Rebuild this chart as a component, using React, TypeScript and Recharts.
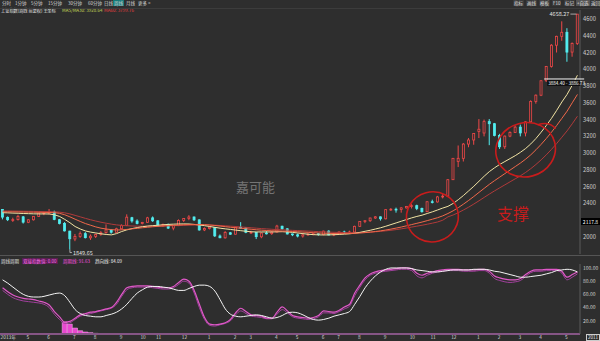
import React from "react";
import { ComposedChart, Bar, Line, XAxis, YAxis, ReferenceLine, ReferenceDot } from "recharts";

// 上证指数 周线 2013.03 - 2015.05 : [open, high, low, close]
const candles: [number, number, number, number][] = [
  [2328, 2332, 2210, 2237], [2234, 2245, 2190, 2206], [2200, 2230, 2180, 2207], [2207, 2265, 2196, 2244], [2240, 2250, 2160, 2177],
  [2175, 2212, 2165, 2205], [2205, 2250, 2196, 2246], [2245, 2290, 2238, 2283], [2282, 2300, 2260, 2288], [2285, 2334, 2270, 2300],
  [2298, 2314, 2200, 2210], [2206, 2215, 2150, 2162], [2160, 2178, 2065, 2073], [2070, 2074, 1849.65, 1979], [1976, 2036, 1950, 2007],
  [2005, 2066, 1990, 2040], [2040, 2059, 1982, 1992], [1990, 2030, 1965, 2010], [2006, 2040, 1988, 2029], [2030, 2070, 2015, 2052],
  [2052, 2150, 2040, 2085], [2085, 2090, 2040, 2057], [2056, 2110, 2050, 2098], [2098, 2150, 2090, 2139], [2139, 2270, 2130, 2236],
  [2230, 2240, 2170, 2191], [2190, 2210, 2150, 2160], [2160, 2180, 2150, 2174], [2175, 2240, 2170, 2228], [2228, 2245, 2180, 2193],
  [2193, 2200, 2125, 2133], [2133, 2160, 2120, 2149], [2150, 2160, 2095, 2106], [2106, 2145, 2080, 2135], [2135, 2210, 2130, 2197],
  [2197, 2225, 2180, 2220], [2220, 2260, 2200, 2238], [2238, 2245, 2190, 2204], [2204, 2210, 2075, 2084], [2084, 2115, 2070, 2101],
  [2100, 2125, 2090, 2116], [2112, 2115, 2000, 2013], [2012, 2030, 1985, 1991], [1990, 2070, 1980, 2054], [2050, 2060, 2025, 2033],
  [2033, 2125, 2030, 2115], [2115, 2177, 2100, 2113], [2110, 2112, 2045, 2056], [2050, 2075, 2035, 2057], [2055, 2060, 1975, 2004],
  [2002, 2055, 1985, 2047], [2047, 2070, 2030, 2041], [2040, 2070, 2025, 2058], [2058, 2145, 2055, 2130], [2128, 2135, 2085, 2097],
  [2097, 2105, 2030, 2036], [2036, 2040, 2010, 2026], [2026, 2040, 1995, 2011], [2011, 2035, 1992, 2026], [2026, 2045, 2015, 2034],
  [2034, 2050, 2020, 2039], [2039, 2045, 2015, 2029], [2029, 2075, 2020, 2070], [2070, 2080, 2020, 2024], [2024, 2045, 2010, 2036],
  [2036, 2065, 2030, 2060], [2060, 2075, 2040, 2047], [2047, 2075, 2035, 2059], [2059, 2135, 2055, 2127], [2127, 2190, 2120, 2185],
  [2185, 2200, 2165, 2194], [2194, 2230, 2180, 2226], [2226, 2250, 2215, 2240], [2240, 2245, 2195, 2217], [2217, 2330, 2210, 2326],
  [2326, 2345, 2310, 2331], [2331, 2350, 2290, 2329], [2329, 2355, 2290, 2347], [2347, 2370, 2340, 2364], [2364, 2391, 2340, 2374],
  [2374, 2385, 2320, 2341], [2341, 2350, 2290, 2302], [2302, 2425, 2295, 2420], [2420, 2445, 2400, 2418], [2418, 2490, 2410, 2478],
  [2478, 2510, 2460, 2487], [2487, 2690, 2480, 2683], [2683, 2940, 2680, 2938], [2900, 3091, 2834, 2938], [2938, 3120, 2900, 3108],
  [3108, 3180, 3070, 3157], [3157, 3240, 3100, 3234], [3258, 3406, 3180, 3285], [3240, 3400, 3200, 3376], [3376, 3406, 3095, 3351],
  [3351, 3360, 3200, 3210], [3210, 3230, 3050, 3076], [3076, 3210, 3050, 3203], [3203, 3260, 3190, 3247], [3247, 3330, 3240, 3310],
  [3310, 3340, 3200, 3241], [3241, 3380, 3200, 3373], [3373, 3630, 3370, 3617], [3617, 3700, 3590, 3691], [3691, 3870, 3680, 3863],
  [3863, 4040, 3850, 4034], [4034, 4300, 4020, 4287], [4287, 4400, 4200, 4393], [4393, 4572, 4340, 4441], [4441, 4490, 4090, 4205],
  [4205, 4320, 4150, 4308], [4308, 4658.27, 4290, 4657.6],
];

// moving averages
const maFast = [
  2290, 2288, 2285, 2283, 2280, 2278, 2276, 2275, 2275, 2274,
  2265, 2245, 2210, 2170, 2125, 2095, 2072, 2058, 2048, 2038,
  2030, 2025, 2040, 2065, 2085, 2100, 2112, 2122, 2130, 2135,
  2140, 2145, 2150, 2153, 2155, 2156, 2155, 2150, 2143, 2135,
  2125, 2115, 2105, 2097, 2090, 2082, 2075, 2068, 2062, 2060,
  2060, 2060, 2060, 2062, 2063, 2060, 2055, 2048, 2040, 2033,
  2028, 2025, 2024, 2025, 2027, 2030, 2034, 2038, 2045, 2055,
  2068, 2080, 2095, 2110, 2128, 2148, 2168, 2188, 2208, 2228,
  2245, 2260, 2280, 2300, 2322, 2345, 2365, 2400, 2445, 2495,
  2550, 2605, 2665, 2725, 2780, 2825, 2865, 2900, 2935, 2970,
  3010, 3055, 3110, 3175, 3250, 3330, 3415, 3510, 3610, 3700,
  3810, 3928.64,
];
const maMid = [
  2300, 2300, 2299, 2298, 2297, 2296, 2295, 2294, 2293, 2292,
  2290, 2282, 2265, 2240, 2212, 2185, 2160, 2140, 2120, 2105,
  2095, 2088, 2083, 2085, 2090, 2097, 2103, 2110, 2116, 2122,
  2127, 2132, 2136, 2140, 2143, 2146, 2148, 2149, 2149, 2147,
  2143, 2137, 2130, 2123, 2116, 2110, 2104, 2098, 2092, 2086,
  2081, 2077, 2074, 2072, 2070, 2068, 2065, 2062, 2058, 2055,
  2051, 2048, 2045, 2043, 2041, 2040, 2040, 2041, 2043, 2047,
  2052, 2058, 2065, 2073, 2083, 2094, 2106, 2119, 2133, 2148,
  2163, 2178, 2195, 2212, 2230, 2252, 2280, 2312, 2350, 2392,
  2436, 2483, 2532, 2580, 2628, 2672, 2714, 2756, 2798, 2840,
  2882, 2928, 2980, 3040, 3105, 3175, 3250, 3330, 3415, 3500,
  3600, 3700,
];
const maSlow = [
  2310, 2310, 2309, 2308, 2307, 2306, 2305, 2304, 2303, 2302,
  2300, 2296, 2288, 2275, 2258, 2240, 2222, 2205, 2190, 2176,
  2164, 2153, 2144, 2138, 2134, 2131, 2129, 2128, 2128, 2129,
  2130, 2131, 2133, 2135, 2137, 2139, 2141, 2142, 2143, 2143,
  2142, 2140, 2137, 2133, 2129, 2125, 2120, 2115, 2110, 2105,
  2100, 2096, 2092, 2088, 2085, 2082, 2079, 2076, 2073, 2070,
  2067, 2064, 2061, 2058, 2056, 2054, 2053, 2052, 2052, 2053,
  2055, 2058, 2062, 2067, 2073, 2080, 2088, 2097, 2107, 2118,
  2129, 2140, 2152, 2165, 2179, 2200, 2240, 2262, 2290, 2322,
  2356, 2393, 2432, 2472, 2512, 2550, 2586, 2622, 2658, 2694,
  2730, 2770, 2815, 2865, 2920, 2980, 3045, 3115, 3190, 3265,
  3350, 3440,
];

// 周线周期 indicator
const cycleLine = [
  70, 64, 59, 56, 54, 53, 52, 50, 48, 44,
  34, 26, 18, 19, 24, 29, 31, 33, 34, 36,
  38, 40, 48, 60, 70, 72, 73, 73, 73, 72,
  71, 70, 70, 72, 78, 83, 80, 66, 45, 25,
  15, 14, 15, 17, 22, 32, 39, 34, 29, 28,
  27, 24, 24, 33, 41, 35, 28, 26, 25, 24,
  25, 28, 35, 34, 33, 36, 41, 45, 62, 74,
  85, 91, 94, 96, 97, 98, 99, 100, 100, 99,
  92, 89, 92, 94, 96, 97, 98, 98, 98, 97,
  97, 97, 98, 98, 95, 88, 85, 83, 82, 82,
  84, 90, 95, 97, 97, 98, 98, 98, 95, 86,
  90, 94,
];
const cyclePurple = [
  66, 60, 55, 52, 50, 49, 48, 47, 45, 40,
  30, 22, 16, 17, 22, 27, 29, 31, 33, 35,
  37, 39, 45, 57, 67, 70, 71, 71, 71, 70,
  69, 68, 68, 70, 75, 80, 77, 62, 40, 22,
  13, 12, 14, 16, 20, 29, 35, 31, 27, 26,
  25, 23, 23, 30, 37, 32, 26, 24, 23, 22,
  23, 26, 32, 32, 31, 34, 38, 42, 58, 71,
  82, 89, 92, 94, 95, 96, 97, 98, 98, 96,
  88, 85, 89, 92, 94, 95, 96, 96, 96, 95,
  95, 95, 96, 96, 92, 84, 81, 79, 78, 79,
  81, 87, 93, 95, 95, 96, 96, 96, 92, 82,
  86, 91,
];
const trendLine = [
  82, 77, 71, 65, 60, 57, 56, 56, 57, 59,
  61, 62, 58, 48, 37, 31, 28, 27, 26, 26,
  28, 30, 33, 38, 45, 54, 62, 67, 71, 72,
  72, 71, 70, 68, 66, 66, 69, 72, 74, 74,
  72, 65, 52, 38, 30, 27, 26, 27, 28, 29,
  28, 26, 24, 25, 28, 32, 33, 32, 29, 25,
  22, 21, 22, 24, 27, 29, 31, 34, 45, 57,
  70, 80, 88, 94, 98, 100, 100, 100, 100, 99,
  97, 96, 95, 94, 94, 95, 96, 97, 97, 97,
  97, 98, 98, 98, 97, 95, 94, 92, 90, 88,
  86, 86, 87, 88, 89, 91, 93, 96, 97, 98,
  97, 94,
];
// 双接指数值 bars, starting at week 12
const crossStart = 12;
const crossBars = [18, 15, 9, 5, 3, 2, 1];

// 2200 sits under the price box on the axis
const priceTicks = [2000, 2400, 2600, 2800, 3000, 3200, 3400, 3600, 3800, 4000, 4200, 4400, 4600];
const oscTicks = [20, 40, 60, 80, 100];
const monthTicks = [
  { i: 0, label: "2013年" }, { i: 5, label: "5" }, { i: 9, label: "6" }, { i: 14, label: "7" },
  { i: 18, label: "8" }, { i: 23, label: "9" }, { i: 27, label: "10" }, { i: 30, label: "11" },
  { i: 35, label: "12" }, { i: 40, label: "1" }, { i: 45, label: "2" }, { i: 48, label: "3" },
  { i: 53, label: "4" }, { i: 57, label: "5" }, { i: 62, label: "6" }, { i: 65, label: "7" },
  { i: 69, label: "8" }, { i: 74, label: "9" }, { i: 79, label: "10" }, { i: 83, label: "11" },
  { i: 87, label: "12" }, { i: 92, label: "1" }, { i: 96, label: "2" }, { i: 100, label: "3" },
  { i: 104, label: "4" }, { i: 109, label: "5" },
];

const BG = "#2e2e2e";
const FONT = "'Noto Sans CJK SC', 'DejaVu Sans', sans-serif";

const rows = candles.map(([open, high, low, close], i) => ({
  i,
  open,
  high,
  low,
  close,
  range: [low, high],
  maFast: maFast[i],
  maMid: maMid[i],
  maSlow: maSlow[i],
  cycle: cycleLine[i],
  cycle2: cyclePurple[i],
  trend: trendLine[i],
  cross: i >= crossStart && i < crossStart + crossBars.length ? crossBars[i - crossStart] : null,
}));

const topHigh = Math.max(...candles.map((c) => c[1]));
const lowIdx = candles.findIndex((c) => c[2] === Math.min(...candles.map((d) => d[2])));

function Candle(props: any) {
  const { x, y, width, height, payload } = props;
  if (x == null || !payload) return null;
  const top = Math.min(y, y + height);
  const h = Math.abs(height);
  const { open, close, high, low } = payload;
  const span = high - low || 1;
  const py = (v: number) => top + ((high - v) / span) * h;
  const up = close >= open;
  const color = up ? "#f04848" : "#52eef0";
  const cx = x + width / 2;
  const b1 = py(Math.max(open, close));
  const b2 = py(Math.min(open, close));
  return (
    <g>
      <line x1={cx} x2={cx} y1={top} y2={top + h} stroke={color} strokeWidth={1} />
      <rect x={x} y={b1} width={width} height={Math.max(b2 - b1, 0.8)} fill={up ? BG : color} stroke={color} strokeWidth={0.8} />
    </g>
  );
}

const HighMark = (props: any) => (
  <g>
    <line x1={props.cx - 7} x2={props.cx - 1} y1={props.cy} y2={props.cy} stroke="#ddd" strokeWidth={0.7} />
    <text x={props.cx - 8} y={props.cy + 2} fontSize={5.5} fill="#e0e0e0" textAnchor="end">{topHigh.toFixed(2)}</text>
  </g>
);

const LowMark = (props: any) => (
  <g>
    <path d={`M${props.cx},${props.cy} V${props.cy + 3} H${props.cx + 2}`} stroke="#ddd" strokeWidth={0.7} fill="none" />
    <text x={props.cx + 3} y={props.cy + 5} fontSize={5.5} fill="#e0e0e0">{candles[lowIdx][2].toFixed(2)}</text>
  </g>
);

const RangeMark = (props: any) => (
  <g>
    <line x1={props.cx + 3} x2={props.cx + 43} y1={props.cy} y2={props.cy} stroke="#f4f4f4" strokeWidth={1} />
    <rect x={props.cx + 6} y={props.cy + 1} width={33} height={6} fill="#111" />
    <text x={props.cx + 7} y={props.cy + 6} fontSize={4.6} fill="#fff">3884.40 - 3886.73</text>
  </g>
);

const loop = (rx: number, ry: number, tail: boolean) => (props: any) => (
  <g fill="none" stroke="#c81c1c" strokeWidth={1.6}>
    <ellipse cx={props.cx} cy={props.cy} rx={rx} ry={ry} transform={`rotate(-15 ${props.cx} ${props.cy})`} />
    {tail && <path d={`M${props.cx + 12},${props.cy - ry + 2} Q${props.cx + 24},${props.cy - ry - 2} ${props.cx + 30},${props.cy - ry + 6}`} />}
  </g>
);

const MonthTick = (props: any) => {
  const t = monthTicks.find((m) => m.i === props.payload.value);
  return (
    <text x={props.x - 2} y={props.y + 4.5} fontSize={4.8} fill="#d4d4d4" textAnchor="start">
      {t ? t.label : ""}
    </text>
  );
};

const tabs = [
  { t: "分时", x: 1 }, { t: "1分钟", x: 14 }, { t: "5分钟", x: 30 }, { t: "15分钟", x: 47 },
  { t: "30分钟", x: 67 }, { t: "60分钟", x: 87 }, { t: "日线", x: 103 }, { t: "周线", x: 113, on: true },
  { t: "月线", x: 125 }, { t: "更多 >", x: 137 },
];
const tools = [
  { t: "指标", x: 513 }, { t: "画线", x: 526 }, { t: "模板", x: 539 }, { t: "F10", x: 552 },
  { t: "标记", x: 564 }, { t: "+自选", x: 576, on: true }, { t: "返回", x: 590 },
];

const small: React.CSSProperties = { position: "absolute", fontSize: 4.5, lineHeight: "6px", whiteSpace: "nowrap" };

export default function App() {
  return (
    <div style={{ position: "absolute", left: 0, top: 0, width: 600, height: 341, background: BG, fontFamily: FONT, overflow: "hidden" }}>
      {tabs.map((b) => (
        <span key={b.x} style={{ ...small, left: b.x, top: 0, color: "#d8d8d8", background: b.on ? "#167a78" : "transparent", padding: "0 1px" }}>{b.t}</span>
      ))}
      {tools.map((b) => (
        <span key={b.x} style={{ ...small, left: b.x, top: 0, color: "#e0e0e0", background: b.on ? "#555" : "#3a3a3a", padding: "0 1px" }}>{b.t}</span>
      ))}
      <span style={{ ...small, left: 1, top: 7, color: "#e8e8e8", fontSize: 4.2 }}>上证指数(周线 前复权) 主坐标</span>
      <span style={{ ...small, left: 62, top: 7, color: "#c8dc58" }}>MA5/MA30: 3928.64</span>
      <span style={{ ...small, left: 104, top: 7, color: "#e84040" }}>MA60: 3799.76</span>

      <div style={{ position: "absolute", left: 0, top: 0 }}>
        <ComposedChart width={600} height={256} data={rows} margin={{ top: 10, right: 0, bottom: 2, left: 0 }} barCategoryGap="28%">
          <XAxis dataKey="i" hide />
          <YAxis
            orientation="right"
            width={20}
            domain={[1797, 4707]}
            allowDataOverflow
            ticks={priceTicks}
            interval={0}
            tickLine={false}
            tickSize={0}
            tickMargin={3}
            axisLine={{ stroke: "#5a5a5a" }}
            tick={{ fontSize: 5.8, fill: "#cfcfcf" }}
          />
          <Bar dataKey="range" shape={Candle} isAnimationActive={false} />
          <Line dataKey="maSlow" stroke="#b03a3a" strokeWidth={1} dot={false} isAnimationActive={false} />
          <Line dataKey="maFast" stroke="#f2e4a4" strokeWidth={1} dot={false} isAnimationActive={false} />
          <Line dataKey="maMid" stroke="#f0684a" strokeWidth={1} dot={false} isAnimationActive={false} />
          <ReferenceDot x={candles.length - 1} y={topHigh} r={0} ifOverflow="visible" shape={HighMark} />
          <ReferenceDot x={lowIdx} y={candles[lowIdx][2]} r={0} ifOverflow="visible" shape={LowMark} />
          <ReferenceDot x={104} y={3884.4} r={0} ifOverflow="visible" shape={RangeMark} />
          <ReferenceDot x={83} y={2240} r={0} ifOverflow="visible" shape={loop(26, 25, false)} />
          <ReferenceDot x={101} y={3040} r={0} ifOverflow="visible" shape={loop(30, 27, true)} />
        </ComposedChart>
      </div>

      <div style={{ position: "absolute", left: 236, top: 177, fontSize: 13, color: "#747474" }}>嘉可能</div>
      <div style={{ position: "absolute", left: 497, top: 201, fontSize: 16, color: "#c81c1c" }}>支撑</div>
      <div style={{ position: "absolute", left: 581, top: 218, width: 19, height: 7, background: "#000", color: "#fff", fontSize: 5, lineHeight: "7px", textAlign: "center" }}>2117.8</div>

      <div style={{ position: "absolute", left: 0, top: 255, width: 600, height: 1, background: "#555" }} />
      <div style={{ position: "absolute", left: 0, top: 8, width: 600, height: 1, background: "#3c3c3c" }} />

      <span style={{ ...small, left: 1, top: 258, color: "#e0e0e0" }}>周线周期</span>
      <span style={{ ...small, left: 22, top: 258, color: "#ff70ee", background: "#5a1e52", padding: "0 1px" }}>双接指数值: 0.00</span>
      <span style={{ ...small, left: 63, top: 258, color: "#ff50e0" }}>周期线: 91.63</span>
      <span style={{ ...small, left: 95, top: 258, color: "#f0f0f0" }}>趋向线: 84.09</span>

      <div style={{ position: "absolute", left: 0, top: 255 }}>
        <ComposedChart width={600} height={86} data={rows} margin={{ top: 9, right: 0, bottom: 0, left: 0 }} barCategoryGap={0}>
          <XAxis
            dataKey="i"
            ticks={monthTicks.map((m) => m.i)}
            interval={0}
            height={7}
            tickLine={false}
            tickSize={0}
            tickMargin={0}
            axisLine={{ stroke: "#6a6a6a" }}
            tick={<MonthTick />}
          />
          <YAxis
            orientation="right"
            width={20}
            domain={[0, 106]}
            allowDataOverflow
            ticks={oscTicks}
            interval={0}
            tickLine={false}
            tickSize={0}
            tickMargin={3}
            axisLine={{ stroke: "#5a5a5a" }}
            tickFormatter={(v: number) => v.toFixed(2)}
            tick={{ fontSize: 5, fill: "#cfcfcf" }}
          />
          <ReferenceLine y={0} stroke="#a040a0" strokeWidth={2} />
          <Bar dataKey="cross" fill="#e848d0" stroke="#ffb4f4" strokeWidth={0.5} isAnimationActive={false} />
          <Line type="monotone" dataKey="cycle2" stroke="#a0409c" strokeWidth={1} dot={false} isAnimationActive={false} />
          <Line type="monotone" dataKey="cycle" stroke="#e058c8" strokeWidth={1.2} dot={false} isAnimationActive={false} />
          <Line type="monotone" dataKey="trend" stroke="#f4f4f4" strokeWidth={1} dot={false} isAnimationActive={false} />
        </ComposedChart>
      </div>

      <div style={{ position: "absolute", left: 586, top: 334, fontSize: 4.5, lineHeight: "5px", color: "#eee", border: "0.5px solid #ccc", padding: "0 1px" }}>2011</div>
    </div>
  );
}
